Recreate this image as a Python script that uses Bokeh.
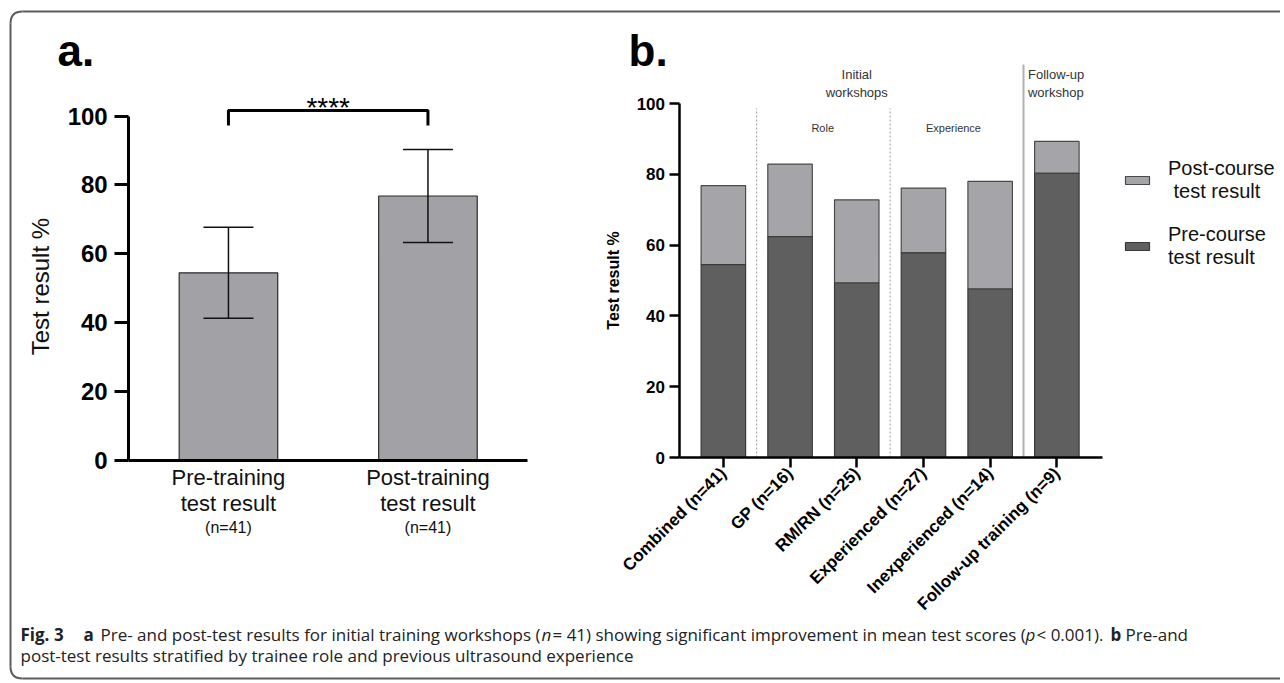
import math
from bokeh.plotting import figure
from bokeh.models import (Range1d, FixedTicker, LinearAxis, Whisker, TeeHead, ColumnDataSource,
                          Legend, LegendItem)
from bokeh.embed import file_html
from bokeh.resources import INLINE
from bokeh.core.properties import value

# ---------------- data ----------------
# panel a
a_categories = ["Pre-training\ntest result", "Post-training\ntest result"]
a_n_labels = ["(n=41)", "(n=41)"]
a_means = [54.5, 76.8]
a_sd = [13.2, 13.5]
a_significance = "****"
a_yticks = [0, 20, 40, 60, 80, 100]

# panel b
b_categories = ["Combined (n=41)", "GP (n=16)", "RM/RN (n=25)", "Experienced (n=27)",
                "Inexperienced (n=14)", "Follow-up training (n=9)"]
b_pre = [54.5, 62.4, 49.3, 57.8, 47.6, 80.3]
b_post = [76.8, 82.9, 72.8, 76.1, 78.0, 89.3]
b_yticks = [0, 20, 40, 60, 80, 100]
b_legend = ["Post-course\n test result", "Pre-course\ntest result"]

caption_line1 = [("Fig. 3", "bold"), ("a", "bold"),
                 ("Pre- and post-test results for initial training workshops (", "normal"),
                 ("n", "italic"),
                 ("= 41) showing significant improvement in mean test scores (", "normal"),
                 ("p", "italic"), ("< 0.001).", "normal"), ("b", "bold"), ("Pre-and", "normal")]
caption_line2 = "post-test results stratified by trainee role and previous ultrasound experience"

FONT = "Liberation Sans"
CAPFONT = "Open Sans"

# ---------------- one canvas, page-pixel base ranges ----------------
W, H = 1280, 680


def x_span(v_at, px_at, ppu):
    return Range1d(v_at - px_at / ppu, v_at + (W - px_at) / ppu)


def y_span(v_at, px_at, ppu):
    return Range1d(v_at - (H - px_at) / ppu, v_at + px_at / ppu)


p = figure(width=W, height=H, output_backend="svg", toolbar_location=None,
           x_range=Range1d(0, W), y_range=Range1d(H, 0),
           x_axis_type=None, y_axis_type=None,
           min_border=0, min_border_left=0, min_border_right=0,
           min_border_top=0, min_border_bottom=0)
p.outline_line_color = None
p.grid.visible = False
p.background_fill_color = "white"
p.border_fill_color = "white"

# panel scales (each mapped over the whole canvas)
p.extra_x_ranges = {"ax": x_span(0.5, 128.2, 199.5), "bx": x_span(0.335, 678.5, 66.7)}
p.extra_y_ranges = {"ay": y_span(0, 460, 3.444), "by": y_span(0, 457, 3.54)}
A = dict(x_range_name="ax", y_range_name="ay")
B = dict(x_range_name="bx", y_range_name="by")

# rounded frame of the figure box
BORDER = "#5c5c5c"
p.line(x=[22, W], y=[11, 11], line_color=BORDER, line_width=2)
p.line(x=[10, 10], y=[23, H - 14], line_color=BORDER, line_width=2)
p.line(x=[22, W], y=[H - 2, H - 2], line_color=BORDER, line_width=2)
p.quadratic(x0=[10, 10], y0=[23, H - 14], x1=[22, 22], y1=[11, H - 2], cx=[10, 10],
            cy=[11, H - 2], line_color=BORDER, line_width=2)

# ---------------- panel a ----------------
ax = list(range(1, len(a_means) + 1))
src_a = ColumnDataSource(dict(x=ax, top=a_means,
                              upper=[m + s for m, s in zip(a_means, a_sd)],
                              lower=[m - s for m, s in zip(a_means, a_sd)]))
p.vbar(x="x", top="top", width=0.494, bottom=0, source=src_a,
       fill_color="#a2a2a6", line_color="#2b2b2b", line_width=1.2, **A)
p.add_layout(Whisker(source=src_a, base="x", upper="upper", lower="lower", dimension="height",
                     line_color="#111111", line_width=1.5, level="annotation",
                     upper_head=TeeHead(size=50, line_color="#111111", line_width=1.5),
                     lower_head=TeeHead(size=50, line_color="#111111", line_width=1.5), **A))

# significance bracket between the two bars
p.line(x=[ax[0], ax[0], ax[1], ax[1]], y=[97.3, 101.6, 101.6, 97.3],
       line_color="black", line_width=3, **A)
p.text(x=[(ax[0] + ax[1]) / 2], y=[102.6], text=[a_significance], text_align="center",
       text_baseline="middle", text_font=value(FONT), text_font_size="28px",
       text_color="black", **A)

ya = LinearAxis(fixed_location=0.5, bounds=(0, 100), ticker=FixedTicker(ticks=a_yticks), **A)
ya.axis_line_width = 3
ya.axis_line_color = "black"
ya.major_tick_line_width = 3
ya.major_tick_out = 14
ya.major_tick_in = 0
ya.minor_tick_line_color = None
ya.major_label_text_font = FONT
ya.major_label_text_font_size = "24px"
ya.major_label_text_font_style = "bold"
ya.major_label_text_color = "black"
ya.major_label_standoff = 7
p.add_layout(ya, "left")

xa = LinearAxis(fixed_location=0, bounds=(0.5, 2.5), ticker=FixedTicker(ticks=ax), **A)
xa.major_label_overrides = {i: c for i, c in zip(ax, a_categories)}
xa.axis_line_width = 3
xa.axis_line_color = "black"
xa.major_tick_line_color = None
xa.minor_tick_line_color = None
xa.major_label_text_font = FONT
xa.major_label_text_font_size = "22px"
xa.major_label_text_color = "#111111"
xa.major_label_text_line_height = 1.06
xa.major_label_standoff = -2
p.add_layout(xa, "below")

p.text(x=ax, y=[-19.4] * len(ax), text=a_n_labels, text_align="center", text_baseline="middle",
       text_font=value(FONT), text_font_size="16px", text_color="#111111", **A)
p.text(x=[0.058], y=[50.5], text=["Test result %"], angle=math.pi / 2,
       text_align="center", text_baseline="middle", text_font=value(FONT),
       text_font_size="24px", text_color="#111111", **A)

# ---------------- panel b ----------------
bx = list(range(1, len(b_categories) + 1))
src_b = ColumnDataSource(dict(x=bx, pre=b_pre, post=b_post))

p.segment(x0=[1.5, 3.5], y0=[0, 0], x1=[1.5, 3.5], y1=[98.6, 98.6],
          line_color="#9a9a9a", line_width=1, line_dash="2 2", **B)
p.segment(x0=[5.5], y0=[0], x1=[5.5], y1=[111], line_color="#b0b0b0", line_width=2, **B)

r_post = p.vbar(x="x", bottom="pre", top="post", width=0.667, source=src_b,
                fill_color="#a5a5a9", line_color="#4a4a4a", line_width=1.2, **B)
r_pre = p.vbar(x="x", bottom=0, top="pre", width=0.667, source=src_b,
               fill_color="#5f5f5f", line_color="#3a3a3a", line_width=1.2, **B)

yb = LinearAxis(fixed_location=0.335, bounds=(0, 100), ticker=FixedTicker(ticks=b_yticks), **B)
yb.axis_line_width = 2.5
yb.axis_line_color = "black"
yb.major_tick_line_width = 2.5
yb.major_tick_out = 10
yb.major_tick_in = 0
yb.minor_tick_line_color = None
yb.major_label_text_font = FONT
yb.major_label_text_font_size = "17px"
yb.major_label_text_font_style = "bold"
yb.major_label_text_color = "black"
yb.major_label_standoff = 4
p.add_layout(yb, "left")

xb = LinearAxis(fixed_location=0, bounds=(0.335, 6.68), ticker=FixedTicker(ticks=bx), **B)
xb.major_label_overrides = {i: c for i, c in zip(bx, b_categories)}
xb.major_label_orientation = math.pi / 4
xb.axis_line_width = 2.5
xb.axis_line_color = "black"
xb.major_tick_line_width = 2.5
xb.major_tick_out = 10
xb.major_tick_in = 0
xb.minor_tick_line_color = None
xb.major_label_text_font = FONT
xb.major_label_text_font_size = "17px"
xb.major_label_text_font_style = "bold"
xb.major_label_text_color = "black"
xb.major_label_standoff = 3
p.add_layout(xb, "below")

p.text(x=[-0.647], y=[50], text=["Test result %"], angle=math.pi / 2,
       text_align="center", text_baseline="middle", text_font=value(FONT),
       text_font_size="16px", text_font_style="bold", text_color="black", **B)

grp = dict(text_font=value(FONT), text_color="#333333", text_baseline="middle")
p.text(x=[3.0, 3.0], y=[108.2, 103.1], text=["Initial", "workshops"], text_align="center",
       text_font_size="13px", **grp, **B)
p.text(x=[5.567, 5.567], y=[108.2, 103.1], text=["Follow-up", "workshop"], text_align="left",
       text_font_size="13px", **grp, **B)
p.text(x=[2.49, 4.45], y=[93.2, 93.2], text=["Role", "Experience"], text_align="center",
       text_font_size="11px", **grp, **B)

legend = Legend(items=[LegendItem(label=b_legend[0], renderers=[r_post]),
                       LegendItem(label=b_legend[1], renderers=[r_pre])],
                location=(1122, 411), orientation="vertical",
                glyph_width=30, glyph_height=10, label_standoff=16, spacing=20,
                padding=0, margin=0, border_line_color=None, background_fill_alpha=0,
                label_text_font=FONT, label_text_font_size="20px",
                label_text_line_height=0.94, label_text_color="#111111")
p.add_layout(legend)

# ---------------- panel titles ----------------
p.text(x=[57, 628], y=[50, 50], text=["a.", "b."], text_align="left", text_baseline="middle",
       text_font=value(FONT), text_font_size="44px", text_font_style="bold", text_color="black")

# ---------------- caption ----------------
cap_x = [20, 83, 100, 541, 552, 1025, 1036, 1110, 1125]
for (txt, style), cx in zip(caption_line1, cap_x):
    p.text(x=[cx], y=[634], text=[txt], text_font=value(CAPFONT), text_font_size="17px",
           text_font_style=style, text_baseline="middle", text_align="left",
           text_color="#222222")
p.text(x=[20], y=[655], text=[caption_line2], text_font=value(CAPFONT), text_font_size="17px",
       text_baseline="middle", text_align="left", text_color="#222222")

open("out.html", "w").write(file_html(p, INLINE))
